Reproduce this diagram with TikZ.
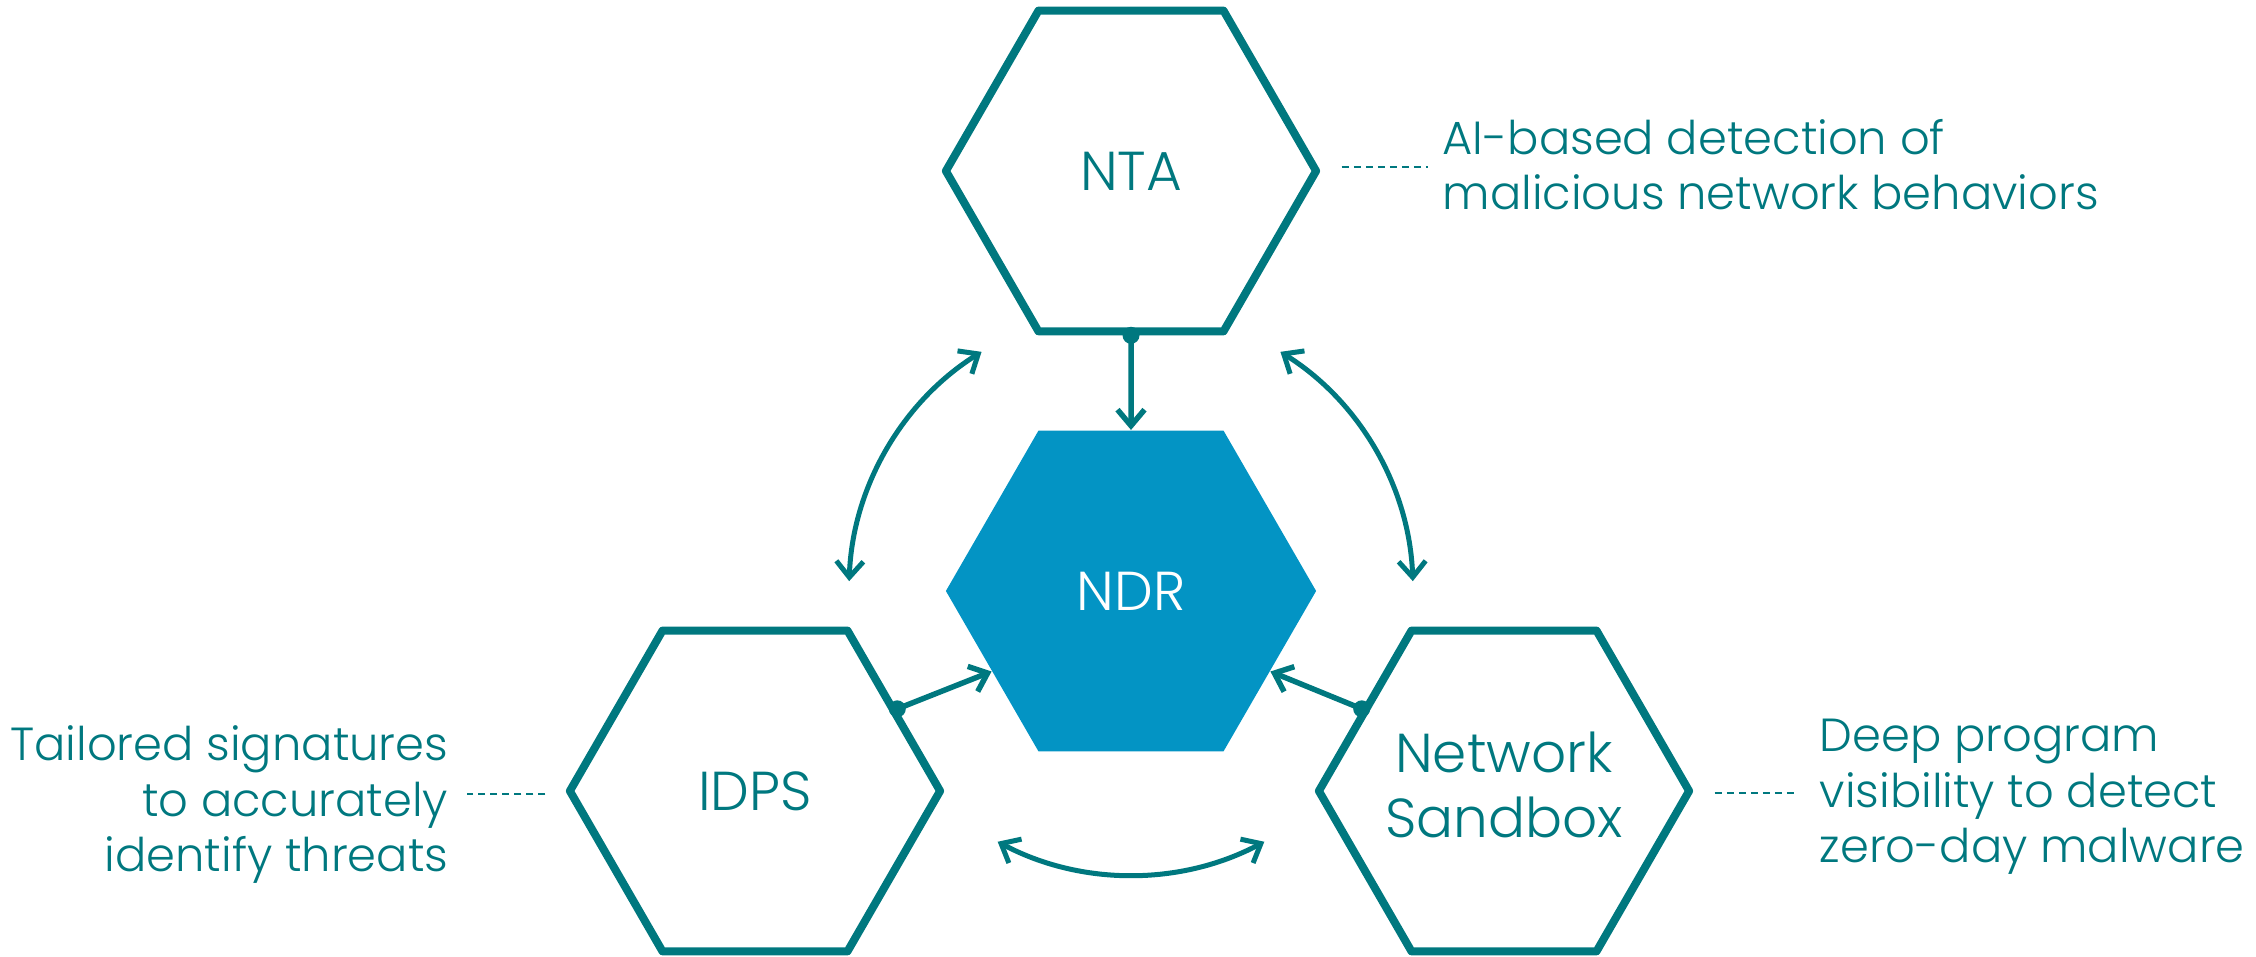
\documentclass[tikz,border=0pt]{standalone}
\usepackage{fontspec}
\IfFontExistsTF{Poppins Light}{\setmainfont{Poppins Light}}{\setmainfont{Poppins}}
\usetikzlibrary{shapes.geometric,arrows.meta,calc}
\definecolor{tealc}{HTML}{00787F}
\definecolor{ndrblue}{HTML}{0394C4}
\begin{document}
\begin{tikzpicture}[x=0.01cm,y=0.01cm,
  hexbox/.style={regular polygon, regular polygon sides=6, minimum size=3.70cm, inner sep=0pt,
    draw=tealc, line width=0.08cm, line join=round, text=tealc, font=\fontsize{15.6}{18.5}\selectfont},
  ndrbox/.style={regular polygon, regular polygon sides=6, minimum size=3.70cm, inner sep=0pt,
    fill=ndrblue, draw=none, text=white, font=\fontsize{15.6}{18.5}\selectfont},
  conn/.style={draw=tealc, line width=0.055cm, -{Straight Barb[length=0.16cm, width=0.27cm]}},
  arcconn/.style={draw=tealc, line width=0.05cm, {Straight Barb[length=0.16cm, width=0.27cm]}-{Straight Barb[length=0.16cm, width=0.27cm]}},
  dotc/.style={fill=tealc},
  dashline/.style={draw=tealc, line width=0.015cm, dash pattern=on 0.07cm off 0.05cm},
  desc/.style={inner sep=0pt, text=tealc, font=\fontsize{13.2}{15.9}\selectfont}
]
\useasboundingbox (0,0) rectangle (2256,957);

\node[hexbox] (NTA) at (1131,786) {NTA};
\node[ndrbox] (NDR) at (1131,366) {NDR};
\node[hexbox] (IDPS) at (755,166) {IDPS};
\node[hexbox, label={[text=tealc, align=center, yshift=0.06cm, font=\fontsize{15.6}{18.5}\selectfont]center:Network\\Sandbox}] (NSB) at (1504,166) {};

% straight connectors
\fill[dotc] (NTA.south) circle (8.5);
\draw[conn] (NTA.south) -- (NDR.north);
\fill[dotc] (IDPS.30) circle (8.5);
\draw[conn] (IDPS.30) -- (NDR.210);
\fill[dotc] (NSB.150) circle (8.5);
\draw[conn] (NSB.150) -- (NDR.330);

% arcs around NDR
\coordinate (aL) at ($(NDR.center)+(122:282)$);
\coordinate (aR) at ($(NDR.center)+(58:282)$);
\coordinate (aB) at ($(NDR.center)+(242:284)$);
\draw[arcconn] (aL) arc[start angle=122, end angle=178, radius=282];
\draw[arcconn] (aR) arc[start angle=58, end angle=2, radius=282];
\draw[arcconn] (aB) arc[start angle=242, end angle=298, radius=284];

% descriptions
\node[desc, anchor=base west, align=left] (ntadesc) at (1442,747)
  {AI-based detection of\\malicious network behaviors};
\node[desc, anchor=base east, align=right] (idpsdesc) at (449,85)
  {Tailored signatures\\to accurately\\identify threats};
\node[desc, anchor=base west, align=left] (nsbdesc) at (1819,94)
  {Deep program\\visibility to detect\\zero-day malware};

\draw[dashline] ($(NTA.east)+(21,4)$) -- ++(86,0);
\draw[dashline] ($(IDPS.west)+(-20,-3)$) -- ++(-78,0);
\draw[dashline] ($(NSB.east)+(21,-2)$) -- ++(79,0);
\end{tikzpicture}
\end{document}
